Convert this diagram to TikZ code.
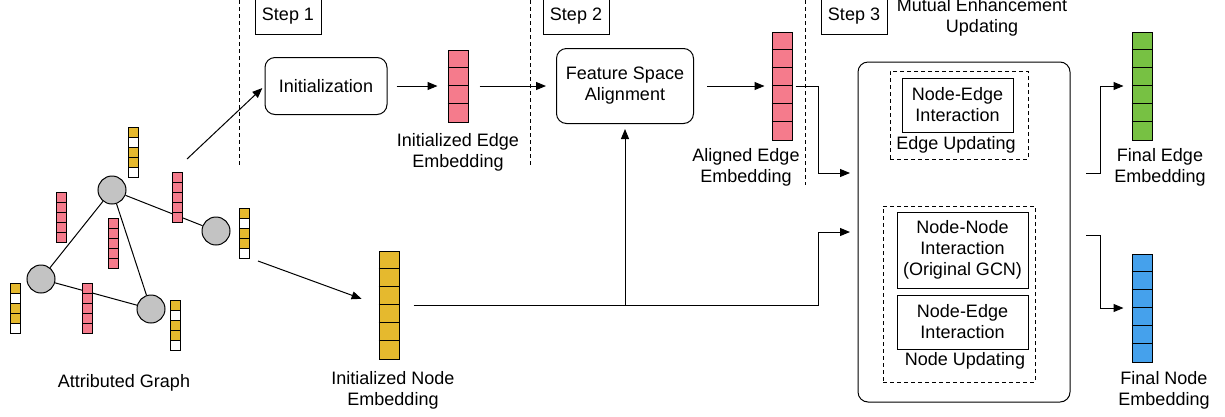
\documentclass[tikz,border=0pt]{standalone}
\usepackage{fontspec}
\setmainfont{Liberation Sans}
\usetikzlibrary{arrows.meta,calc}
\definecolor{edgepink}{HTML}{F57B8C}
\definecolor{nodegold}{HTML}{E5B92E}
\definecolor{finalgreen}{HTML}{77C143}
\definecolor{finalblue}{HTML}{45A1EC}
\definecolor{graphgray}{HTML}{C3C3C3}
\newcommand{\bigcells}[2]{% dividers of a big vector
\foreach \k in {1,...,#2}
    \draw[line width=1pt] ($(#1.north west)+(0,18*\k)$) -- ++(20,0);
}
\newcommand{\smallvec}[3]{% attribute vector of the graph
\coordinate (#1) at (#2);
\foreach \c [count=\k from 0] in {#3}
    \draw[line width=0.9pt, fill=\c] ($(#1)+(-5,10*\k)$) rectangle ++(10,10);
}
\tikzstyle{stepbox} = [
    draw,
    rectangle,
    line width=1pt,
    minimum width=66pt,
    minimum height=36pt,
    inner sep=0pt
    ]
\tikzstyle{procbox} = [
    draw,
    rectangle,
    rounded corners=10pt,
    line width=1pt,
    align=center,
    inner sep=0pt
    ]
\tikzstyle{plainbox} = [draw, rectangle, line width=1pt, align=center, inner sep=0pt]
\tikzstyle{dashbox} = [draw, rectangle, dash pattern=on 4pt off 3pt, line width=1pt, inner sep=0pt]
\tikzstyle{stepline} = [dash pattern=on 4pt off 3pt, line width=1pt]
\tikzstyle{lbl} = [align=center, inner sep=0pt]
\tikzstyle{vec} = [draw, rectangle, line width=1pt, minimum width=20pt, inner sep=0pt]
\tikzstyle{gnode} = [draw, circle, fill=graphgray, line width=1pt, minimum size=28pt, inner sep=0pt]
\tikzstyle{arr} = [-{Triangle[length=10pt,width=8pt]}, line width=1pt]

\begin{document}
\begin{tikzpicture}[x=1pt, y=-1pt, font=\fontsize{18}{21}\selectfont]
\useasboundingbox (0,0) rectangle (1225,416);

% step separators and titles
\draw[stepline] (239,0) -- (239,167);
\draw[stepline] (530,0) -- (530,167);
\draw[stepline] (805,0) -- (805,185);
\node[stepbox] (s1) at (288,16) {Step 1};
\node[stepbox] (s2) at (576,16) {Step 2};
\node[stepbox] (s3) at (854,16) {Step 3};
\node[lbl] (s3title) at (982,17) {Mutual Enhancement\\Updating};

% attributed graph
\node[gnode] (ga) at (112,190) {};
\node[gnode] (gb) at (216,231) {};
\node[gnode] (gc) at (41,279) {};
\node[gnode] (gd) at (151,309) {};
\draw[line width=1pt] (ga) -- (gb) (ga) -- (gc) (ga) -- (gd) (gc) -- (gd);
\smallvec{va}{133,127}{nodegold,white,nodegold,nodegold,white}
\smallvec{vb}{244,208}{nodegold,white,nodegold,nodegold,white}
\smallvec{vc}{15,283}{nodegold,white,nodegold,nodegold,white}
\smallvec{vd}{175,300}{nodegold,white,nodegold,nodegold,white}
\smallvec{vab}{177,172}{edgepink,edgepink,edgepink,edgepink,edgepink}
\smallvec{vac}{61,192}{edgepink,edgepink,edgepink,edgepink,edgepink}
\smallvec{vad}{113.5,218}{edgepink,edgepink,edgepink,edgepink,edgepink}
\smallvec{vcd}{87,283}{edgepink,edgepink,edgepink,edgepink,edgepink}
\node[lbl] (gcap) at (124,383) {Attributed Graph};
\coordinate (gout1) at (187,159);
\coordinate (gout2) at (258,261);

% step 1
\node[procbox, minimum width=122pt, minimum height=57pt] (init) at (326,86) {Initialization};
\node[vec, fill=edgepink, minimum height=72pt] (iemb) at (458,86) {};
\bigcells{iemb}{3}
\node[lbl] (iembl) at (458,152) {Initialized Edge\\Embedding};
\node[vec, fill=nodegold, minimum height=108pt] (nemb) at (389,305) {};
\bigcells{nemb}{5}
\node[lbl] (nembl) at (393,390) {Initialized Node\\Embedding};

% step 2
\node[procbox, minimum width=137pt, minimum height=75pt] (fsa) at (625,86) {Feature Space\\Alignment};
\node[vec, fill=edgepink, minimum height=108pt] (aemb) at (782,86) {};
\bigcells{aemb}{5}
\node[lbl] (aembl) at (746,167) {Aligned Edge\\Embedding};

% step 3
\node[procbox, minimum width=212pt, minimum height=340pt] (meu) at (964,232) {};
\node[dashbox, minimum width=138pt, minimum height=88pt] (eup) at (959,115) {};
\node[plainbox, minimum width=111pt, minimum height=54pt] (neA) at (957.5,105) {Node-Edge\\Interaction};
\node[lbl] (eupl) at (956,145) {Edge Updating};
\node[dashbox, minimum width=152pt, minimum height=176pt] (nup) at (959,294) {};
\node[plainbox, minimum width=131pt, minimum height=76pt] (nn) at (962.5,250) {Node-Node\\Interaction\\(Original GCN)};
\node[plainbox, minimum width=131pt, minimum height=54pt] (neB) at (962.5,322) {Node-Edge\\Interaction};
\node[lbl] (nupl) at (965,361) {Node Updating};
\coordinate (ein) at (850,173);
\coordinate (nin) at (850,232);
\coordinate (eout) at (1086,173);
\coordinate (nout) at (1086,235);
\node[vec, fill=finalgreen, minimum height=108pt] (fedge) at (1142,86) {};
\bigcells{fedge}{5}
\node[lbl] (fedgel) at (1160,167) {Final Edge\\Embedding};
\node[vec, fill=finalblue, minimum height=108pt] (fnode) at (1142,308) {};
\bigcells{fnode}{5}
\node[lbl] (fnodel) at (1164,390) {Final Node\\Embedding};

% connectors
\draw[arr, shorten >=3pt] (gout1) -- (init.west);
\draw[arr, shorten >=18pt] (gout2) -- (nemb.west);
\draw[arr, shorten <=9pt, shorten >=10pt] (init) -- (iemb);
\draw[arr, shorten <=11pt, shorten >=10pt] (iemb) -- (fsa);
\draw[arr, shorten <=13pt, shorten >=7pt] (fsa) -- (aemb);
\draw[arr, shorten <=3pt] (aemb.east) -| ([xshift=-32pt]ein) -- (ein);
\draw[arr, shorten <=14pt] (nemb.east) -| ([xshift=-32pt]nin) -- (nin);
\draw[arr, shorten >=5pt] (fsa.south |- nemb.east) -- (fsa.south);
\draw[arr, shorten >=8pt] (eout) -- ++(14,0) |- (fedge.west);
\draw[arr, shorten >=8pt] (nout) -- ++(14,0) |- (fnode.west);
\end{tikzpicture}
\end{document}
